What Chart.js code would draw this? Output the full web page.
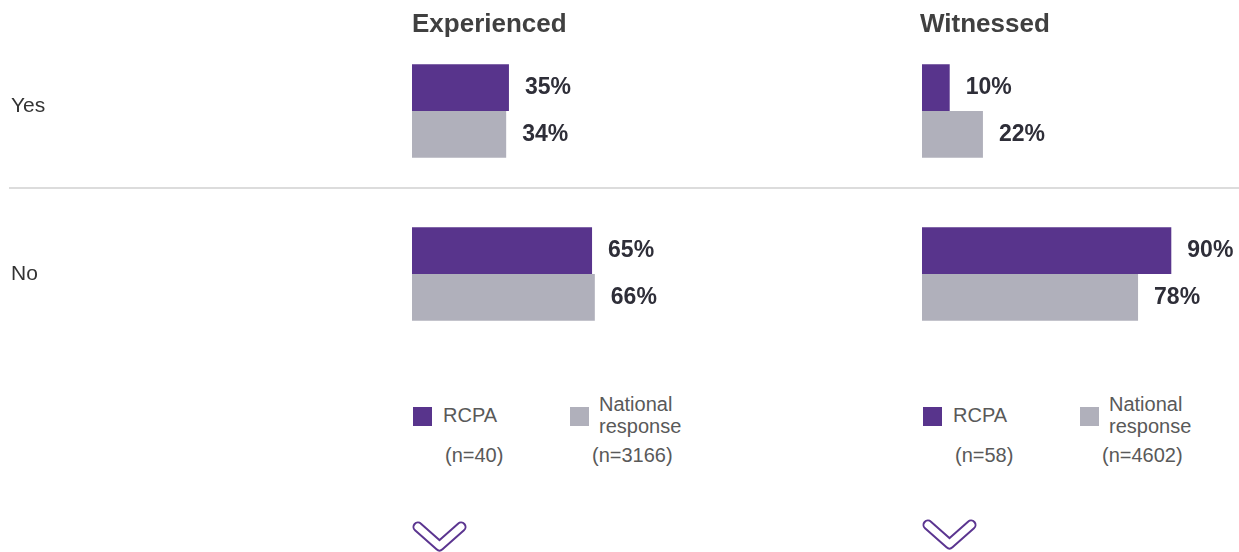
<!DOCTYPE html>
<html>
<head>
<meta charset="utf-8">
<script src="https://cdn.jsdelivr.net/npm/chart.js@4.4.1/dist/chart.umd.min.js"></script>
<style>
  body { margin: 0; width: 1239px; height: 552px; overflow: hidden; background: #fff; font-family: "Liberation Sans", Arial, sans-serif; }
  canvas { position: absolute; top: 0; }
  .rule { position: absolute; left: 9px; top: 187px; width: 1230px; height: 2px; background: #dcdcdc; }
  .lg { position: absolute; font-size: 20px; line-height: 22px; color: #595959; white-space: nowrap; }
  .sw { position: absolute; width: 19px; height: 19px; top: 407px; }
  svg { position: absolute; left: 0; top: 0; }
</style>
</head>
<body>
<div class="rule"></div>
<canvas id="expChart" width="700" height="380" style="left:0"></canvas>
<canvas id="witChart" width="539" height="380" style="left:700px"></canvas>
<div id="legends"></div>
<svg width="1239" height="552">
  <g fill="none" stroke-linecap="round" stroke-linejoin="round">
    <path d="M418 527 L439.5 546 L461 527" stroke="#5b3590" stroke-width="11"/>
    <path d="M418 527 L439.5 546 L461 527" stroke="#fff" stroke-width="7"/>
    <path d="M928 525 L949.5 544 L971 525" stroke="#5b3590" stroke-width="11"/>
    <path d="M928 525 L949.5 544 L971 525" stroke="#fff" stroke-width="7"/>
  </g>
</svg>
<script>
const categories = ['Yes', 'No'];
const seriesNames = ['RCPA', 'National response'];
const experiencedRcpa = [35, 65];
const experiencedNational = [34, 66];
const witnessedRcpa = [10, 90];
const witnessedNational = [22, 78];
const experiencedN = [40, 3166];
const witnessedN = [58, 4602];

const purple = '#58348c';
const grey = '#b0b0bb';

// titles, row labels and value labels
const decor = {
    id: 'decor',
    afterDatasetsDraw(chart, args, opts) {
        const ctx = chart.ctx;
        const area = chart.chartArea;
        ctx.save();
        ctx.fillStyle = '#404040';
        ctx.font = 'bold 26px "Liberation Sans", Arial, sans-serif';
        ctx.textAlign = 'left';
        ctx.textBaseline = 'middle';
        ctx.fillText(opts.title, area.left - opts.titleShift, 25);

        if (opts.rowLabels) {
            ctx.fillStyle = '#333333';
            ctx.font = '21px "Liberation Sans", Arial, sans-serif';
            const yScale = chart.scales.y;
            categories.forEach((c, i) => {
                ctx.fillText(c, 11, yScale.getPixelForValue(i) - (i === 0 ? 5 : 0));
            });
        }

        ctx.fillStyle = '#2e2e38';
        ctx.font = 'bold 23px "Liberation Sans", Arial, sans-serif';
        chart.data.datasets.forEach((ds, di) => {
            chart.getDatasetMeta(di).data.forEach((bar, i) => {
                ctx.fillText(ds.data[i] + '%', bar.x + 16, bar.y);
            });
        });
        ctx.restore();
    }
};

function makeChart(id, title, rcpa, national, padLeft, padRight, rowLabels, titleShift) {
    new Chart(document.getElementById(id), {
        type: 'bar',
        data: {
            labels: categories,
            datasets: [
                { label: seriesNames[0], data: rcpa, backgroundColor: purple },
                { label: seriesNames[1], data: national, backgroundColor: grey }
            ]
        },
        options: {
            indexAxis: 'y',
            responsive: false,
            animation: false,
            devicePixelRatio: 1,
            categoryPercentage: 0.574,
            barPercentage: 1.0,
            layout: { padding: { left: padLeft, right: padRight, top: 29.5, bottom: 24.5 } },
            scales: {
                x: { display: false, min: 0, max: 100 },
                y: { display: false }
            },
            plugins: {
                legend: { display: false },
                tooltip: { enabled: false },
                decor: { title: title, rowLabels: rowLabels, titleShift: titleShift }
            }
        },
        plugins: [decor]
    });
}

makeChart('expChart', 'Experienced', experiencedRcpa, experiencedNational, 412, 11, true, 0);
makeChart('witChart', 'Witnessed', witnessedRcpa, witnessedNational, 222, 40, false, 2);

// legends under each panel
function addLegend(left, counts) {
    const box = document.getElementById('legends');
    const html = [
        `<div class="sw" style="left:${left + 1}px;background:${purple}"></div>`,
        `<div class="lg" style="left:${left + 31}px;top:404px">${seriesNames[0]}</div>`,
        `<div class="sw" style="left:${left + 158}px;background:${grey}"></div>`,
        `<div class="lg" style="left:${left + 187}px;top:393px">National<br>response</div>`,
        `<div class="lg" style="left:${left + 33}px;top:444px">(n=${counts[0]})</div>`,
        `<div class="lg" style="left:${left + 180}px;top:444px">(n=${counts[1]})</div>`
    ];
    box.insertAdjacentHTML('beforeend', html.join(''));
}
addLegend(412, experiencedN);
addLegend(922, witnessedN);
</script>
</body>
</html>
